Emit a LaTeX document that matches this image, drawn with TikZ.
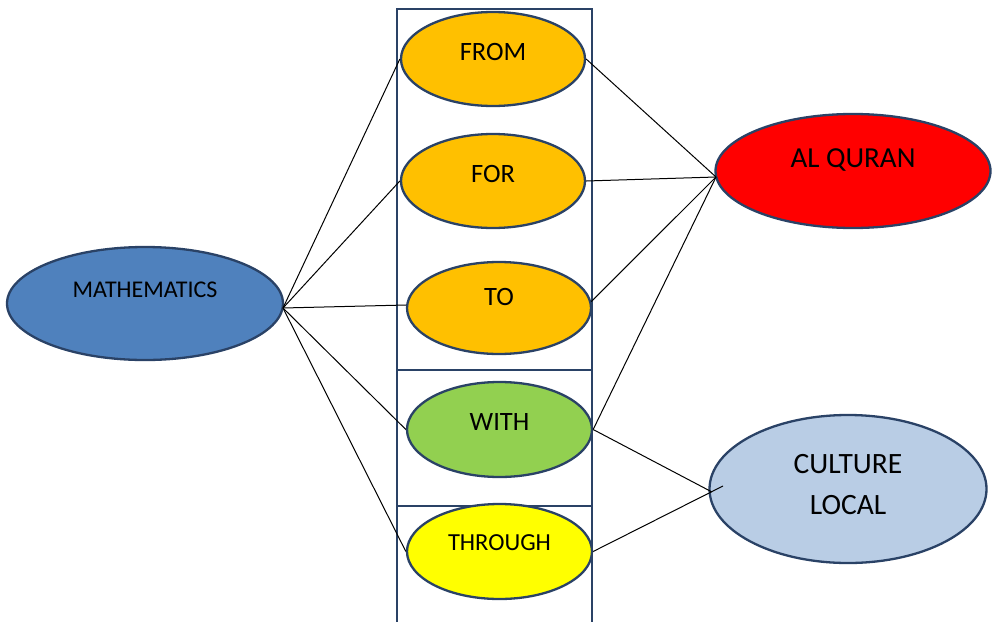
\documentclass[tikz,border=0pt]{standalone}
\usepackage{fontspec}
\setmainfont{Carlito}
\usetikzlibrary{shapes.geometric}
\definecolor{edge}{RGB}{42,66,102}
\definecolor{orng}{HTML}{FFC000}
\definecolor{grn}{HTML}{92D050}
\definecolor{ylw}{HTML}{FFFF00}
\definecolor{mblue}{HTML}{4F81BD}
\definecolor{qred}{HTML}{FF0000}
\definecolor{lblue}{HTML}{B9CDE5}
\tikzset{
  oval/.style={ellipse, draw=edge, line width=2.3pt, inner sep=0pt},
  word/.style={anchor=base, inner sep=0pt, text=black},
  frame/.style={draw=edge, line width=2pt},
  link/.style={draw=black, line width=1pt}
}
\begin{document}
\begin{tikzpicture}[x=1pt,y=-1pt]
\useasboundingbox (0,0) rectangle (992,621);
\clip (0,0) rectangle (992,621);
% frames
\draw[frame] (397,9) rectangle (592,630);
\draw[frame] (397,370) rectangle (592,506);
% ellipses
\node[oval, fill=orng, minimum width=184pt, minimum height=94pt] (from) at (493,59) {};
\node[oval, fill=orng, minimum width=184pt, minimum height=94pt] (for) at (493,181) {};
\node[oval, fill=orng, minimum width=184pt, minimum height=92pt] (to) at (499,308) {};
\node[oval, fill=grn, minimum width=185pt, minimum height=95pt] (with) at (499.5,429.5) {};
\node[oval, fill=ylw, minimum width=185pt, minimum height=95pt] (through) at (499.5,551.5) {};
\node[oval, fill=mblue, minimum width=276pt, minimum height=113pt] (math) at (145,303.5) {};
\node[oval, fill=qred, minimum width=275pt, minimum height=114pt] (quran) at (853,171) {};
\node[oval, fill=lblue, minimum width=277pt, minimum height=148pt] (culture) at (848,489) {};
% texts
\node[word, font=\fontsize{26.5}{30}\selectfont] (tfrom) at (493,60.5) {FROM};
\node[word, font=\fontsize{26.5}{30}\selectfont] (tfor) at (493,182.5) {FOR};
\node[word, font=\fontsize{26.5}{30}\selectfont] (tto) at (499,305.5) {TO};
\node[word, font=\fontsize{26.5}{30}\selectfont] (twith) at (499.5,430.5) {WITH};
\node[word, font=\fontsize{24.5}{28}\selectfont] (tthrough) at (499.5,550) {THROUGH};
\node[word, font=\fontsize{24}{28}\selectfont] (tmath) at (145,297.5) {MATHEMATICS};
\node[word, font=\fontsize{29}{33}\selectfont] (tquran) at (853,167.5) {AL QURAN};
\node[word, font=\fontsize{29.5}{33}\selectfont] (tculture) at (848,473.5) {CULTURE};
\node[word, font=\fontsize{29.5}{33}\selectfont] (tlocal) at (848,514.5) {LOCAL};
% convergence points
\coordinate (mc) at (283,308);
\coordinate (qc) at (716,177);
\coordinate (cw) at (712,492);
\coordinate (ct) at (723,486);
% connectors
\draw[link] (mc) -- (from.west);
\draw[link] (mc) -- (for.west);
\draw[link] (mc) -- ([yshift=3pt]to.west);
\draw[link] (mc) -- (with.west);
\draw[link] (mc) -- (through.west);
\draw[link] (from.east) -- (qc);
\draw[link] (for.east) -- (qc);
\draw[link] (to.4) -- (qc);
\draw[link] (with.east) -- (qc);
\draw[link] (with.east) -- (cw);
\draw[link] (through.east) -- (ct);
\end{tikzpicture}
\end{document}
